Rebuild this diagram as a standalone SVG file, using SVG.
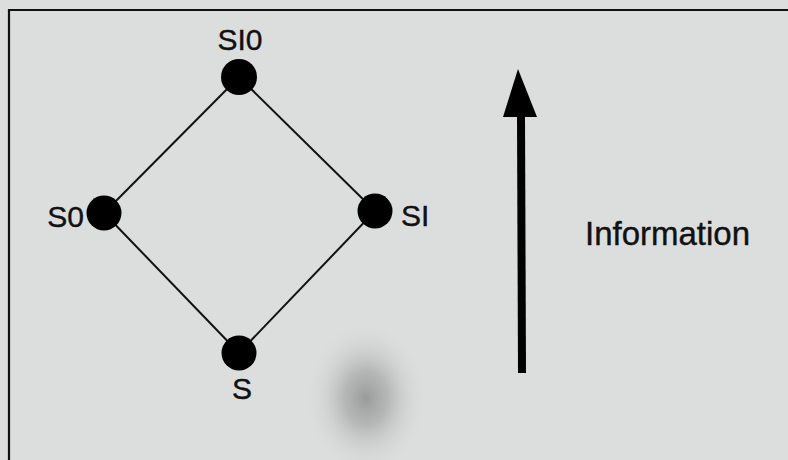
<svg xmlns="http://www.w3.org/2000/svg" width="788" height="460" viewBox="0 0 788 460">
  <defs>
    <style>
      .edge { stroke: #111; stroke-width: 2; fill: none; }
      .dot { fill: #000; }
      .lbl { font-family: "Liberation Sans", Arial, sans-serif; font-size: 30px; fill: #111; stroke: #111; stroke-width: 0.4; }
    </style>
    <radialGradient id="smudge" cx="0.5" cy="0.5" r="0.5">
      <stop offset="0" stop-color="#8e9090" stop-opacity="0.85"/>
      <stop offset="0.35" stop-color="#9c9e9e" stop-opacity="0.6"/>
      <stop offset="0.7" stop-color="#bfc1c1" stop-opacity="0.25"/>
      <stop offset="1" stop-color="#dcdede" stop-opacity="0"/>
    </radialGradient>
  </defs>

  <!-- page background and frame -->
  <rect x="0" y="0" width="788" height="460" fill="#dcdede"/>
  <ellipse cx="366" cy="398" rx="62" ry="78" fill="url(#smudge)"/>
  <path d="M9 460 V10 H788" stroke="#111" stroke-width="2.2" fill="none"/>

  <!-- lattice edges -->
  <g id="connectors">
    <line class="edge" x1="239" y1="77" x2="104" y2="213"/>
    <line class="edge" x1="239" y1="77" x2="375" y2="211"/>
    <line class="edge" x1="104" y1="213" x2="239" y2="353"/>
    <line class="edge" x1="375" y1="211" x2="239" y2="353"/>
  </g>

  <!-- lattice points -->
  <g id="node-SI0">
    <circle class="dot" cx="239" cy="77" r="18"/>
    <text class="lbl" x="240" y="50" text-anchor="middle">SI0</text>
  </g>
  <g id="node-S0">
    <circle class="dot" cx="104" cy="213" r="17.5"/>
    <text class="lbl" x="84" y="227" text-anchor="end">S0</text>
  </g>
  <g id="node-SI">
    <circle class="dot" cx="375" cy="211" r="17.5"/>
    <text class="lbl" x="401" y="226">SI</text>
  </g>
  <g id="node-S">
    <circle class="dot" cx="239" cy="353" r="17.5"/>
    <text class="lbl" x="242" y="399" text-anchor="middle">S</text>
  </g>

  <!-- information direction arrow -->
  <g id="info-arrow">
    <path d="M522 373 L521 115" stroke="#000" stroke-width="8" fill="none"/>
    <polygon points="518,69 537,117 503,117" fill="#000"/>
    <text class="lbl" x="585" y="245" style="font-size:33px">Information</text>
  </g>
</svg>
